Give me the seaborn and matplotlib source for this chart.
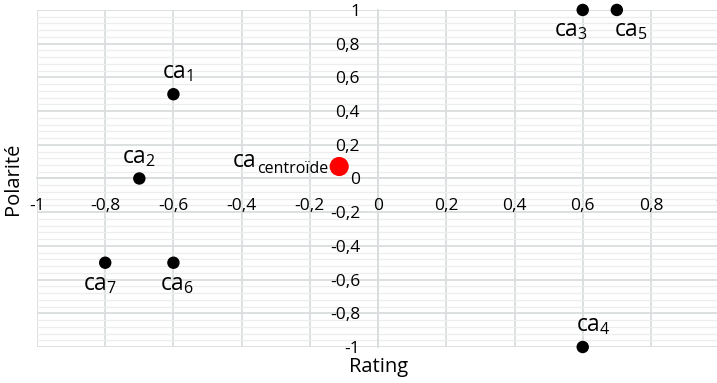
import numpy as np
import pandas as pd
import matplotlib
matplotlib.use("Agg")
import matplotlib.pyplot as plt
from matplotlib.ticker import MultipleLocator, FuncFormatter
import seaborn as sns

# data
names = ["1", "2", "3", "4", "5", "6", "7"]
rating = [-0.6, -0.7, 0.6, 0.6, 0.7, -0.6, -0.8]
polarite = [0.5, 0.0, 1.0, -1.0, 1.0, -0.5, -0.5]
centroid_x = [-0.114]
centroid_y = [0.071]

# label offsets (points) and alignment for each point label
label_pos = {
    "1": ((3, 7), "center", "bottom"),
    "2": ((0, 7), "center", "bottom"),
    "3": ((4, -6), "right", "top"),
    "4": ((8, 7), "center", "bottom"),
    "5": ((-2, -6), "left", "top"),
    "6": ((3, -7), "center", "top"),
    "7": ((-4, -7), "center", "top"),
}

sns.set_style("white")
plt.rcParams["font.family"] = ["Open Sans", "DejaVu Sans"]
plt.rcParams["mathtext.fontset"] = "custom"
plt.rcParams["mathtext.rm"] = "Open Sans"
plt.rcParams["mathtext.it"] = "Open Sans"
plt.rcParams["text.color"] = "black"
plt.rcParams["axes.labelcolor"] = "black"
plt.rcParams["xtick.color"] = "black"
plt.rcParams["ytick.color"] = "black"

df = pd.DataFrame({"Rating": rating, "Polarité": polarite, "name": names})

fig = plt.figure(figsize=(7.17, 3.83), dpi=100)
pos = [0.0516, 0.094, 0.9514, 0.880]

# background axes that only carries the grid, so tick labels sit on top
bg = fig.add_axes(pos, zorder=0)
bg.set_xlim(-1, 1)
bg.set_ylim(-1, 1)
bg.xaxis.set_major_locator(MultipleLocator(0.2))
bg.yaxis.set_major_locator(MultipleLocator(0.2))
bg.yaxis.set_minor_locator(MultipleLocator(0.04))
bg.grid(which="minor", axis="y", color="#eceeee", linewidth=0.9)
bg.grid(which="major", color="#d9dddd", linewidth=1.3)
bg.tick_params(which="both", length=0, labelbottom=False, labelleft=False)
for s in bg.spines.values():
    s.set_visible(False)

ax = fig.add_axes(pos, zorder=1)
ax.patch.set_alpha(0)

sns.scatterplot(data=df, x="Rating", y="Polarité", color="black", s=80,
                edgecolor="none", ax=ax, clip_on=False, zorder=5)
sns.scatterplot(x=centroid_x, y=centroid_y, color="#ff0000", s=190,
                edgecolor="none", ax=ax, clip_on=False, zorder=5)

for n, x, y in zip(names, rating, polarite):
    off, ha, va = label_pos[n]
    ax.annotate(r"$\mathregular{ca_{" + n + "}}$", (x, y), xytext=off,
                textcoords="offset points", ha=ha, va=va, fontsize=16.5)

# centroid label: "ca" with a plain-text subscript (keeps the diaeresis)
sub = ax.annotate("centroïde", (centroid_x[0], centroid_y[0]),
                  xytext=(-8, -5), textcoords="offset points", ha="right",
                  va="baseline", fontsize=11.5)
ax.annotate("ca", xy=(0, 0), xycoords=sub, xytext=(0, 7.5),
            textcoords="offset points", ha="right", va="baseline",
            fontsize=16.5)

ax.set_xlim(-1, 1)
ax.set_ylim(-1, 1)
ax.xaxis.set_major_locator(MultipleLocator(0.2))
ax.yaxis.set_major_locator(MultipleLocator(0.2))

fmt = FuncFormatter(lambda v, p: ("%g" % round(v, 2)).replace(".", ","))
ax.xaxis.set_major_formatter(fmt)
ax.yaxis.set_major_formatter(fmt)
ax.grid(False)

for s in ["top", "right"]:
    ax.spines[s].set_visible(False)
ax.spines["left"].set_position(("data", 0))
ax.spines["bottom"].set_position(("data", 0))
for s in ["left", "bottom"]:
    ax.spines[s].set_color("#d9dddd")
    ax.spines[s].set_linewidth(1.3)
    ax.spines[s].set_zorder(0)

ax.tick_params(axis="both", which="both", length=0, labelsize=12.5)
ax.tick_params(axis="x", pad=14)
ax.tick_params(axis="y", pad=13)

ax.set_xlabel("Rating", fontsize=14.5)
ax.set_ylabel("Polarité", fontsize=14.5)
ax.xaxis.set_label_coords(0.5, -0.06)
ax.yaxis.set_label_coords(-0.035, 0.5)
ax.xaxis.label.set_va("center")
ax.yaxis.label.set_va("center")

fig.savefig("out.png", dpi=100)
